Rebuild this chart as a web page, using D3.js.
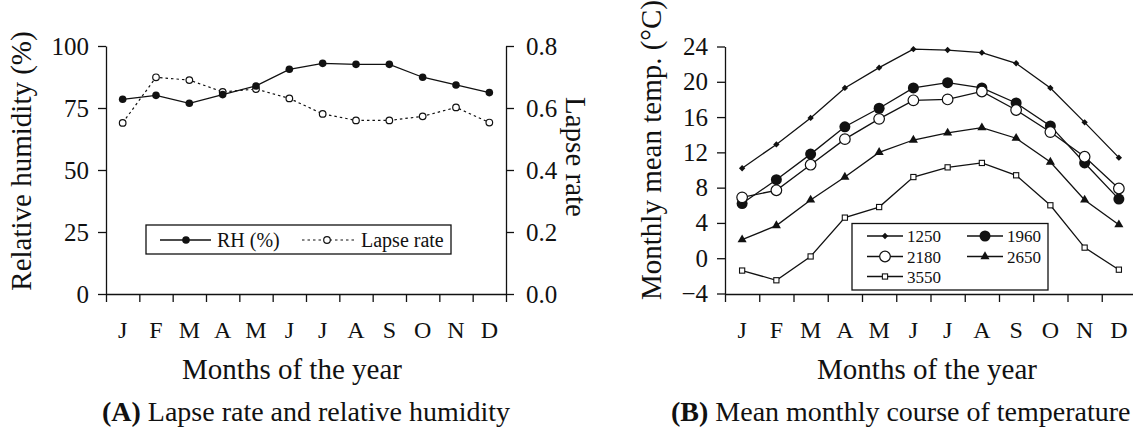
<!DOCTYPE html>
<html>
<head>
<meta charset="utf-8">
<script src="https://cdn.jsdelivr.net/npm/d3@7"></script>
<style>
  body { margin: 0; background: #fff; }
  svg { display: block; }
  svg text { font-family: "Liberation Serif", "Times New Roman", serif !important; fill: #111; }
  .axis path, .axis line { stroke: #111; stroke-width: 1.3; }
</style>
</head>
<body>
<svg id="chart" width="1133" height="429" font-family="Liberation Serif, serif"></svg>
<script>
// month labels (shared by both panels)
var months = ["J", "F", "M", "A", "M", "J", "J", "A", "S", "O", "N", "D"];

// panel A: relative humidity (%) and lapse rate
var rh = [78.5, 80.1, 76.9, 80.4, 83.9, 90.6, 93.0, 92.6, 92.6, 87.4, 84.3, 81.2];
var lapseRate = [0.552, 0.699, 0.690, 0.652, 0.661, 0.631, 0.581, 0.560, 0.560, 0.573, 0.602, 0.553];
var rhTicks = [0, 25, 50, 75, 100];
var lapseTicks = [0, 0.2, 0.4, 0.6, 0.8];

// panel B: monthly mean temperature at each elevation
var elevations = ["1250", "1960", "2180", "2650", "3550"];
var t1250 = [10.2, 12.9, 15.9, 19.3, 21.6, 23.7, 23.6, 23.3, 22.1, 19.3, 15.4, 11.4];
var t1960 = [6.2, 8.9, 11.8, 14.9, 17.0, 19.3, 19.9, 19.3, 17.6, 15.0, 10.8, 6.7];
var t2180 = [6.9, 7.7, 10.6, 13.5, 15.8, 17.9, 18.0, 18.9, 16.8, 14.3, 11.5, 7.9];
var t2650 = [2.1, 3.7, 6.6, 9.2, 12.0, 13.4, 14.2, 14.8, 13.6, 10.9, 6.6, 3.8];
var t3550 = [-1.4, -2.5, 0.2, 4.6, 5.8, 9.2, 10.3, 10.8, 9.4, 6.0, 1.2, -1.3];
var tempTicks = [-4, 0, 4, 8, 12, 16, 20, 24];

var svg = d3.select("#chart");
var ink = "#111";
var serif = "Liberation Serif, Times New Roman, serif";

// ---------- helpers ----------
function monthAxes(g, left, right, axisY) {
    // tick marks sit on month boundaries, labels in the middle of each month
    var edge = d3.scaleLinear().domain([0, 12]).range([left, right]);
    var band = d3.scaleBand().domain(d3.range(12)).range([left, right]);

    g.append("g")
        .attr("class", "axis")
        .attr("transform", "translate(0," + axisY + ")")
        .call(d3.axisBottom(edge).tickValues(d3.range(13)).tickSize(8).tickSizeOuter(0).tickFormat(""));

    g.append("g")
        .selectAll("text")
        .data(months)
        .enter()
        .append("text")
        .attr("x", function(d, i) { return band(i) + band.bandwidth() / 2; })
        .attr("y", 338)
        .attr("text-anchor", "middle")
        .attr("font-size", 24)
        .text(function(d) { return d; });

    return band;
}

function styleTicks(sel, size) {
    sel.attr("font-family", serif);
    sel.selectAll("text").attr("font-size", size).attr("font-family", serif).attr("fill", ink);
}

// ================= PANEL A =================
var gA = svg.append("g");
var xA = monthAxes(gA, 106, 506, 294);
var cx = function(d, i) { return xA(i) + xA.bandwidth() / 2; };

var yA = d3.scaleLinear().domain([0, 100]).range([294, 46]);
var yR = d3.scaleLinear().domain([0, 0.8]).range([294, 46]);

gA.append("g")
    .attr("class", "axis")
    .attr("transform", "translate(106,0)")
    .call(d3.axisLeft(yA).tickValues(rhTicks).tickSize(8).tickSizeOuter(0).tickPadding(9))
    .call(styleTicks, 25);

gA.append("g")
    .attr("class", "axis")
    .attr("transform", "translate(506,0)")
    .call(d3.axisRight(yR).tickValues(lapseTicks).tickSize(8).tickSizeOuter(0).tickPadding(12)
        .tickFormat(d3.format(".1f")))
    .call(styleTicks, 25);

// lapse rate: dotted line with open circles
gA.append("path")
    .datum(lapseRate)
    .attr("fill", "none")
    .attr("stroke", ink)
    .attr("stroke-width", 1.2)
    .attr("stroke-dasharray", "2.5,3")
    .attr("d", d3.line().x(cx).y(function(d) { return yR(d); }));

gA.selectAll(".lr")
    .data(lapseRate)
    .enter()
    .append("circle")
    .attr("class", "lr")
    .attr("cx", cx)
    .attr("cy", function(d) { return yR(d); })
    .attr("r", 3.3)
    .attr("fill", "#fff")
    .attr("stroke", ink)
    .attr("stroke-width", 1.2);

// relative humidity: solid line with filled dots
gA.append("path")
    .datum(rh)
    .attr("fill", "none")
    .attr("stroke", ink)
    .attr("stroke-width", 1.3)
    .attr("d", d3.line().x(cx).y(function(d) { return yA(d); }));

gA.selectAll(".rh")
    .data(rh)
    .enter()
    .append("circle")
    .attr("class", "rh")
    .attr("cx", cx)
    .attr("cy", function(d) { return yA(d); })
    .attr("r", 3.8)
    .attr("fill", ink);

// legend A
var legA = gA.append("g");
legA.append("rect")
    .attr("x", 146).attr("y", 225).attr("width", 305).attr("height", 29)
    .attr("fill", "#fff").attr("stroke", ink).attr("stroke-width", 1.3);
legA.append("line").attr("x1", 160).attr("x2", 211).attr("y1", 240).attr("y2", 240)
    .attr("stroke", ink).attr("stroke-width", 1.3);
legA.append("circle").attr("cx", 186).attr("cy", 240).attr("r", 3.8).attr("fill", ink);
legA.append("text").attr("x", 217).attr("y", 247).attr("font-size", 20).text("RH (%)");
legA.append("line").attr("x1", 302).attr("x2", 357).attr("y1", 240).attr("y2", 240)
    .attr("stroke", ink).attr("stroke-width", 1.2).attr("stroke-dasharray", "2.5,3");
legA.append("circle").attr("cx", 327).attr("cy", 240).attr("r", 3.3)
    .attr("fill", "#fff").attr("stroke", ink).attr("stroke-width", 1.2);
legA.append("text").attr("x", 361).attr("y", 247).attr("font-size", 20).text("Lapse rate");

// titles A
gA.append("text")
    .attr("transform", "translate(31,161) rotate(-90)")
    .attr("text-anchor", "middle")
    .attr("font-size", 29)
    .text("Relative humidity (%)");

gA.append("text")
    .attr("transform", "translate(566,157) rotate(90)")
    .attr("text-anchor", "middle")
    .attr("font-size", 29)
    .text("Lapse rate");

gA.append("text")
    .attr("x", 292).attr("y", 379)
    .attr("text-anchor", "middle")
    .attr("font-size", 29)
    .text("Months of the year");

var capA = gA.append("text").attr("x", 306).attr("y", 421).attr("text-anchor", "middle").attr("font-size", 28);
capA.append("tspan").attr("font-weight", "bold").text("(A)");
capA.append("tspan").text(" Lapse rate and relative humidity");

// ================= PANEL B =================
var gB = svg.append("g");
var xB = monthAxes(gB, 725, 1136, 294);
var bx = function(d, i) { return xB(i) + xB.bandwidth() / 2; };

var yB = d3.scaleLinear().domain([-4, 24]).range([293.5, 46.5]);

gB.append("g")
    .attr("class", "axis")
    .attr("transform", "translate(725,0)")
    .call(d3.axisLeft(yB).tickValues(tempTicks).tickSize(8).tickSizeOuter(0).tickPadding(9))
    .call(styleTicks, 25);

var series = [
    { name: elevations[0], values: t1250, shape: "diamond" },
    { name: elevations[1], values: t1960, shape: "dot" },
    { name: elevations[2], values: t2180, shape: "ring" },
    { name: elevations[3], values: t2650, shape: "triangle" },
    { name: elevations[4], values: t3550, shape: "square" }
];

function addMarker(g, shape, x, y) {
    if (shape === "dot") {
        g.append("circle").attr("cx", x).attr("cy", y).attr("r", 5.5).attr("fill", ink);
    } else if (shape === "ring") {
        g.append("circle").attr("cx", x).attr("cy", y).attr("r", 5.3)
            .attr("fill", "#fff").attr("stroke", ink).attr("stroke-width", 1.2);
    } else if (shape === "diamond") {
        g.append("path").attr("d", d3.symbol(d3.symbolSquare, 20)())
            .attr("transform", "translate(" + x + "," + y + ") rotate(45)").attr("fill", ink);
    } else if (shape === "triangle") {
        g.append("path").attr("d", d3.symbol(d3.symbolTriangle, 36)())
            .attr("transform", "translate(" + x + "," + y + ")").attr("fill", ink);
    } else {
        g.append("rect").attr("x", x - 2.6).attr("y", y - 2.6).attr("width", 5.2).attr("height", 5.2)
            .attr("fill", "#fff").attr("stroke", ink).attr("stroke-width", 1.1);
    }
}

var lineB = d3.line().x(bx).y(function(d) { return yB(d); });

series.forEach(function(s) {
    gB.append("path")
        .datum(s.values)
        .attr("fill", "none")
        .attr("stroke", ink)
        .attr("stroke-width", 1.3)
        .attr("d", lineB);
});
series.forEach(function(s) {
    s.values.forEach(function(v, i) {
        addMarker(gB, s.shape, bx(v, i), yB(v));
    });
});

// legend B
var legB = gB.append("g");
legB.append("rect")
    .attr("x", 852).attr("y", 223.5).attr("width", 196).attr("height", 66.5)
    .attr("fill", "#fff").attr("stroke", ink).attr("stroke-width", 1.3);
var legPos = [[867, 236], [967, 236], [867, 256.5], [967, 256.5], [867, 276.5]];
series.forEach(function(s, i) {
    var p = legPos[i];
    legB.append("line").attr("x1", p[0]).attr("x2", p[0] + 36).attr("y1", p[1]).attr("y2", p[1])
        .attr("stroke", ink).attr("stroke-width", 1.3);
    addMarker(legB, s.shape, p[0] + 18, p[1]);
    legB.append("text").attr("x", p[0] + 40).attr("y", p[1] + 6).attr("font-size", 17).text(s.name);
});

// titles B
gB.append("text")
    .attr("transform", "translate(661,150) rotate(-90)")
    .attr("text-anchor", "middle")
    .attr("font-size", 29)
    .text("Monthly mean temp. (\u00B0C)");

gB.append("text")
    .attr("x", 927).attr("y", 379)
    .attr("text-anchor", "middle")
    .attr("font-size", 29)
    .text("Months of the year");

var capB = gB.append("text").attr("x", 671).attr("y", 421).attr("font-size", 28);
capB.append("tspan").attr("font-weight", "bold").text("(B)");
capB.append("tspan").text(" Mean monthly course of temperature");
</script>
</body>
</html>
